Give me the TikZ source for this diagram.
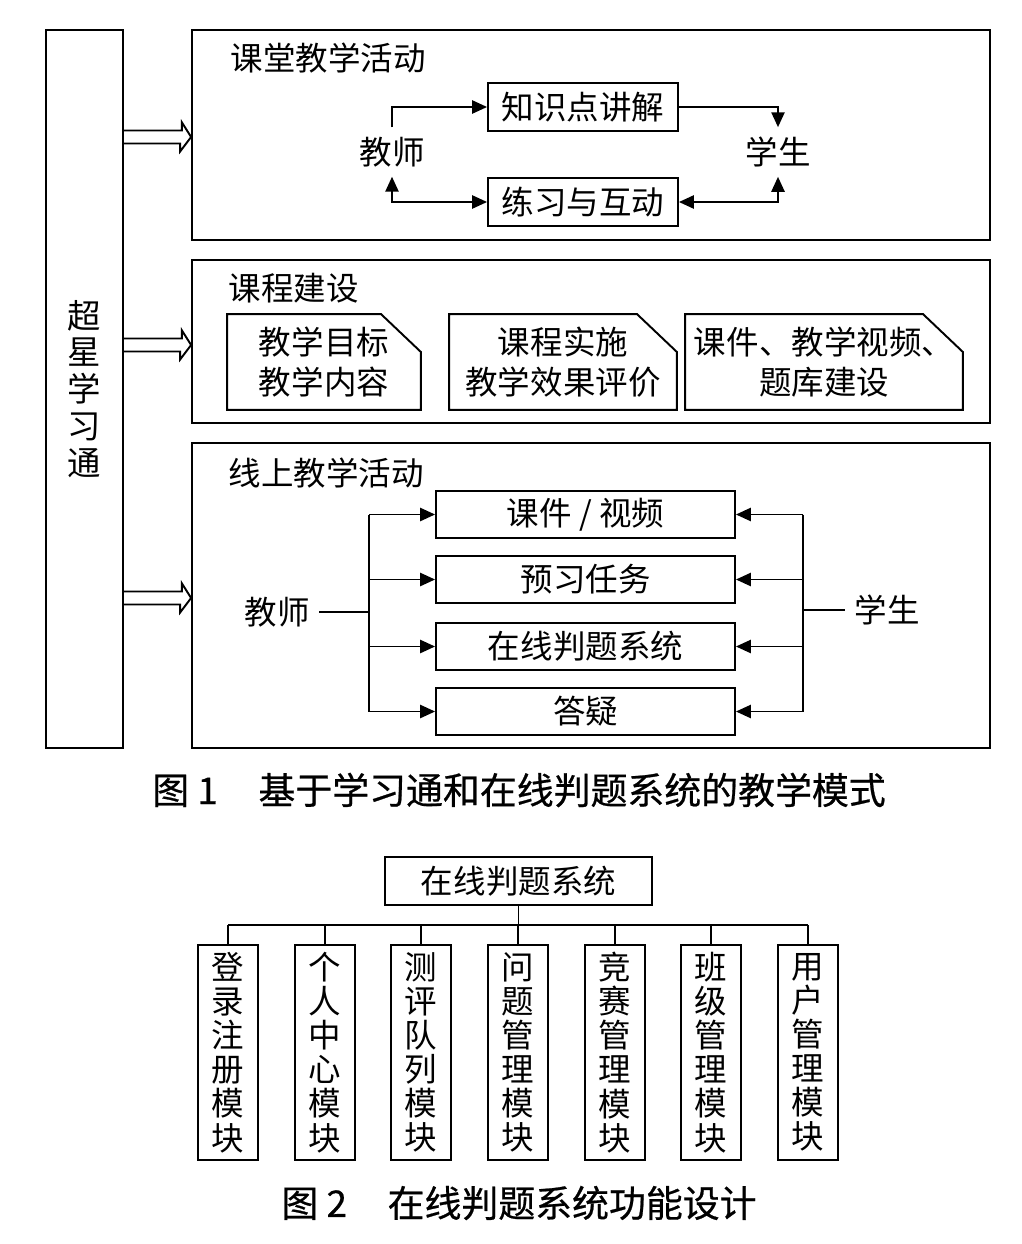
\documentclass[tikz,border=0pt]{standalone}
\usepackage{fontspec}
\setmainfont{Noto Sans CJK SC}
\newfontfamily\capfont{Noto Sans CJK SC}[FakeBold=0.6]
\usetikzlibrary{arrows.meta}

\tikzset{
  box/.style={draw, line width=1.1pt, inner sep=2pt},
  lbl/.style={inner sep=5pt},
  ttl/.style={anchor=west, inner sep=0pt},
  arr/.style={line width=1.1pt, -{Triangle[length=8.5pt,width=7.5pt]}},
  darr/.style={line width=1.1pt, {Triangle[length=8.5pt,width=7.5pt]}-{Triangle[length=8.5pt,width=7.5pt]}},
  vbox/.style={box, minimum width=1.2cm, minimum height=4.3cm, align=center, font=\fontsize{18.5pt}{19.4pt}\selectfont},
  card/.style={minimum height=1.88cm, align=center, inner sep=1pt, font=\fontsize{18.5pt}{22.7pt}\selectfont},
  figcap/.style={font=\fontsize{21pt}{25pt}\capfont},
}

\begin{document}
\begin{tikzpicture}[x=0.02cm, y=-0.02cm, font=\fontsize{18.5pt}{22pt}\selectfont, line width=1.1pt]
  \fill[white] (0,0) rectangle (1021,1244);
  % Fig. 1: platform column
  \node[box, minimum width=1.54cm, minimum height=14.36cm, align=center,
        font=\fontsize{19pt}{21pt}\selectfont] (cx) at (84.5,389) {超\\星\\学\\习\\通};
  % three panels
  \node[box, minimum width=15.96cm, minimum height=4.2cm] (p1) at (591,135) {};
  \node[box, minimum width=15.96cm, minimum height=3.26cm] (p2) at (591,341.5) {};
  \node[box, minimum width=15.96cm, minimum height=6.1cm] (p3) at (591,595.5) {};
  % hollow arrows into the panels
  \foreach \p/\y in {p1/137,p2/345,p3/598}
    \draw (cx.east |- 0,\y) ++(0,-6.5) -- ++(58,0) -- ++(0,-8) -- (\p.west |- 0,\y)
      -- ++(-11,14.5) -- ++(0,-8) -- ++(-58,0);

  % classroom activities
  \node[ttl] (t1) at (230,58) {课堂教学活动};
  \node[box, minimum width=3.8cm, minimum height=0.96cm] (k1) at (583,107) {知识点讲解};
  \node[box, minimum width=3.8cm, minimum height=0.96cm] (k2) at (583,202) {练习与互动};
  \node[lbl] (js1) at (392,152) {教师};
  \node[lbl] (xs1) at (778,152) {学生};
  \draw[arr] (js1.north) |- (k1.west);
  \draw[arr] (k1.east) -| (xs1.north);
  \draw[darr] (js1.south) |- (k2.west);
  \draw[darr] (xs1.south) |- (k2.east);

  % course building
  \node[ttl] (t2) at (228,288) {课程建设};
  \node[card, minimum width=3.84cm] (m1) at (324,362) {教学目标\\教学内容};
  \node[card, minimum width=4.52cm] (m2) at (563,362) {课程实施\\教学效果评价};
  \node[card, minimum width=5.52cm] (m3) at (824,362) {课件、教学视频、\\题库建设};
  \foreach \n in {m1,m2,m3}
    \draw (\n.south west) -- (\n.north west) -- ([xshift=-0.8cm]\n.north east)
      -- ([yshift=-0.76cm]\n.north east) -- (\n.south east) -- cycle;

  % online activities
  \node[ttl] (t3) at (228,473) {线上教学活动};
  \node[box, minimum width=5.98cm, minimum height=0.94cm] (o1) at (585.5,514.5) {课件 / 视频};
  \node[box, minimum width=5.98cm, minimum height=0.94cm] (o2) at (585.5,579.5) {预习任务};
  \node[box, minimum width=5.98cm, minimum height=0.94cm] (o3) at (585.5,646.5) {在线判题系统};
  \node[box, minimum width=5.98cm, minimum height=0.94cm] (o4) at (585.5,711.5) {答疑};
  \node[lbl] (js2) at (277,612) {教师};
  \node[lbl] (xs2) at (887,610) {学生};
  \coordinate (lj) at (369,612);
  \coordinate (rx) at (803,610);
  \draw (js2.east) -- (lj);
  \draw (xs2.west) -- (rx);
  \draw (lj |- o1) -- (lj |- o4);
  \draw (rx |- o1) -- (rx |- o4);
  \foreach \i in {1,...,4} {
    \draw[arr] (lj |- o\i) -- (o\i.west);
    \draw[arr] (rx |- o\i) -- (o\i.east);
  }

  \node[figcap] (cap1) at (519,790) {图 1\hspace{1.1em}基于学习通和在线判题系统的教学模式};

  % Fig. 2: system modules
  \node[box, minimum width=5.34cm, minimum height=0.96cm] (ol) at (518.5,881) {在线判题系统};
  \coordinate (bus) at (518.5,925);
  \node[vbox] (c1) at (228,1052.5) {登\\录\\注\\册\\模\\块};
  \node[vbox] (c2) at (325,1052.5) {个\\人\\中\\心\\模\\块};
  \node[vbox] (c3) at (421,1052.5) {测\\评\\队\\列\\模\\块};
  \node[vbox] (c4) at (518,1052.5) {问\\题\\管\\理\\模\\块};
  \node[vbox] (c5) at (615,1052.5) {竞\\赛\\管\\理\\模\\块};
  \node[vbox] (c6) at (711,1052.5) {班\\级\\管\\理\\模\\块};
  \node[vbox] (c7) at (808,1052.5) {用\\户\\管\\理\\模\\块};
  \draw (ol.south) -- (bus);
  \draw (c1.north |- bus) -- (c7.north |- bus);
  \foreach \i in {1,...,7}
    \draw (c\i.north) -- (c\i.north |- bus);

  \node[figcap] (cap2) at (519,1203) {图 2\hspace{1.1em}在线判题系统功能设计};
\end{tikzpicture}
\end{document}
